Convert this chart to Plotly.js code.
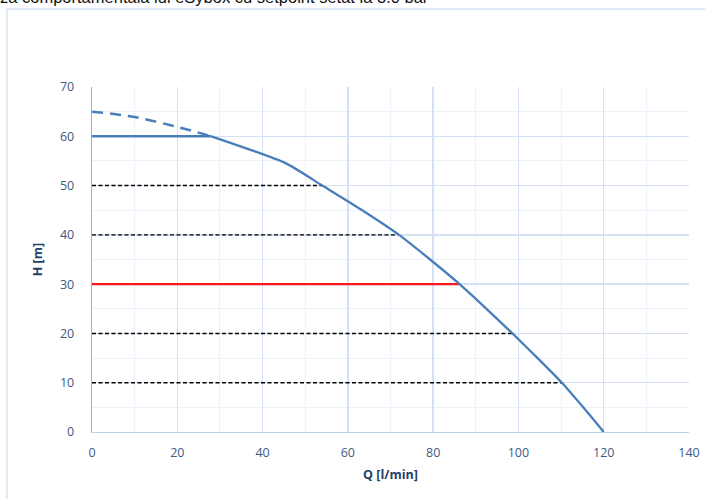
<!DOCTYPE html>
<html>
<head>
<meta charset="utf-8">
<script src="https://cdn.plot.ly/plotly-3.0.1.min.js"></script>
<style>html,body{margin:0;padding:0;background:#fff;}#chart{width:705px;height:499px;}</style>
</head>
<body>
<div id="chart"></div>
<script>
// Pump curve (solid part)
const curveQ = [28, 45.5, 54, 63, 72, 79, 86.2, 92.5, 98.6, 104.5, 110.2, 115.2, 120];
const curveH = [60, 54.5, 50, 45.2, 40, 35.2, 30, 25, 20, 15, 10, 5, 0];
// Dashed extension of the curve at low flow
const extQ = [0, 10, 20, 28];
const extH = [65, 63.9, 61.9, 60];
// Limited head (flat) segment
const flatQ = [0, 28];
const flatH = [60, 60];
// Setpoint reference lines (black dashed)
const refH = [50, 40, 20, 10];
const refQ = [54, 71.7, 98.6, 110.2];
// Setpoint 3.0 bar line (red)
const setH = 30;
const setQ = 86.2;

const blue = '#4a7ebb';
const traces = [];
refH.forEach((h, i) => {
  traces.push({x: [0, refQ[i]], y: [h, h], mode: 'lines', line: {color: '#000000', width: 1.4, dash: '4px,2.5px'}, hoverinfo: 'skip'});
});
traces.push({x: [0, setQ], y: [setH, setH], mode: 'lines', line: {color: '#ff1a1a', width: 2.2}, hoverinfo: 'skip'});
traces.push({x: extQ, y: extH, mode: 'lines', line: {color: blue, width: 2.5, dash: '11px,7px', shape: 'spline'}});
traces.push({x: flatQ, y: flatH, mode: 'lines', line: {color: blue, width: 2.5}});
traces.push({x: curveQ, y: curveH, mode: 'lines', line: {color: blue, width: 2.3, shape: 'spline', smoothing: 0.6}});

const tickFont = {family: 'Open Sans, Liberation Sans, sans-serif', size: 12.5, color: '#3e5a84'};
const titleFont = {family: 'Open Sans, Liberation Sans, sans-serif', size: 12.5, color: '#24416e', weight: 'bold'};

const layout = {
  width: 705, height: 499,
  margin: {l: 92, r: 16, t: 87, b: 67},
  paper_bgcolor: '#ffffff', plot_bgcolor: '#ffffff',
  showlegend: false,
  font: tickFont,
  xaxis: {
    range: [0, 140], dtick: 20, tick0: 0, fixedrange: true,
    showgrid: true, gridcolor: '#d3e1f3', gridwidth: 1.3,
    minor: {dtick: 10, showgrid: true, gridcolor: '#edf2fa', gridwidth: 1},
    showline: true, linecolor: '#bcd2ee', linewidth: 1.3,
    zeroline: false, ticks: '', ticklabelstandoff: 9,
    tickfont: tickFont,
    title: {text: '<b>Q [l/min]</b>', font: titleFont, standoff: 10}
  },
  yaxis: {
    range: [0, 70], dtick: 10, tick0: 0, fixedrange: true,
    showgrid: true, gridcolor: '#d3e1f3', gridwidth: 1.3,
    minor: {dtick: 5, showgrid: true, gridcolor: '#edf2fa', gridwidth: 1},
    showline: true, linecolor: '#8fb2de', linewidth: 1.3,
    zeroline: false, ticks: '', ticklabelstandoff: 14,
    tickfont: tickFont,
    title: {text: '<b>H [m]</b>', font: titleFont, standoff: 14}
  },
  shapes: [
    {type: 'rect', xref: 'paper', yref: 'paper', x0: -0.1424, x1: 1.2, y0: -0.4, y1: 1.226,
     line: {color: '#d6e2f2', width: 1.5}, fillcolor: 'rgba(0,0,0,0)', layer: 'below'}
  ],
  annotations: [
    {xref: 'paper', yref: 'paper', x: -0.158, y: 1.23, xanchor: 'left', yanchor: 'bottom',
     text: 'za comportamentală lui eSybox cu setpoint setat la 3.0 bar', showarrow: false,
     font: {family: 'Liberation Sans, Arial, sans-serif', size: 16.5, color: '#111111'}}
  ]
};

Plotly.newPlot('chart', traces, layout, {displayModeBar: false, staticPlot: true});
</script>
</body>
</html>
